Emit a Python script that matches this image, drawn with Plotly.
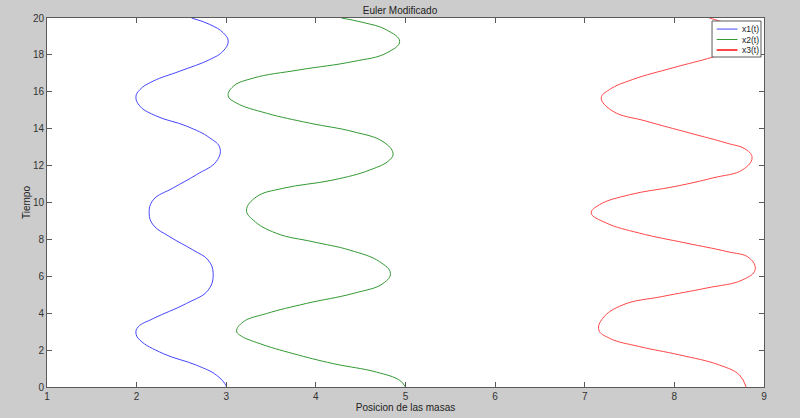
import plotly.graph_objects as go

# x1(t)
t1 = [0, 0.09, 0.64, 1.18, 1.81, 2.54, 2.93, 3.26, 3.71, 4.53, 5.25, 6.16, 6.88, 7.42, 8.14, 8.78, 9.41, 10.14,
      10.79, 11.51, 12.24, 12.96, 13.5, 14.14, 14.68, 15.22, 15.73, 16.12, 16.58, 17.12, 17.75, 18.21, 18.75, 19.2,
      19.65, 20]
x1 = [3.0, 2.996, 2.892, 2.669, 2.297, 2.037, 1.992, 2.018, 2.185, 2.557, 2.798, 2.854, 2.798, 2.631, 2.371, 2.185, 2.14, 2.185,
      2.408, 2.669, 2.892, 2.929, 2.817, 2.557, 2.223, 2.037, 1.992, 2.037, 2.185, 2.483, 2.817, 2.966, 3.022, 2.966,
      2.817, 2.613]

# x2(t)
t2 = [0, 0.36, 0.81, 1.27, 1.81, 2.35, 2.81, 3.04, 3.53, 3.98, 4.53, 5.07, 5.61, 6.16, 6.79, 7.42, 7.87, 8.33, 9.05, 9.59,
      10.31, 10.77, 11.22, 11.76, 12.31, 12.67, 13.3, 13.84, 14.3, 14.84, 15.39, 15.78, 16.29, 16.74, 17.19, 17.64, 18.1,
      18.73, 19.36, 19.76, 20]
x2 = [5.0, 4.935, 4.675, 4.192, 3.746, 3.375, 3.152, 3.115, 3.189, 3.449, 3.895, 4.415, 4.749, 4.832, 4.712, 4.378, 3.969, 3.56, 3.3, 3.226,
      3.338, 3.634, 4.192, 4.601, 4.824, 4.861, 4.749, 4.415, 3.932, 3.449, 3.115, 3.022, 3.077, 3.3, 3.82, 4.415, 4.787,
      4.935, 4.787, 4.526, 4.285]

# x3(t)
t3 = [0, 0.65, 1.19, 1.74, 2.19, 2.64, 3.09, 3.73, 4.45, 4.91, 5.36, 5.81, 6.35, 6.99, 7.35, 7.8, 8.34, 8.89, 9.43,
      9.88, 10.42, 10.88, 11.33, 11.78, 12.42, 12.87, 13.23, 13.77, 14.41, 14.95, 15.67, 16.12, 16.67, 17.3, 17.88,
      18.4, 18.9, 19.4, 19.84, 20]
x3 = [8.80, 8.726, 8.503, 8.057, 7.611, 7.277, 7.157, 7.202, 7.425, 7.871, 8.355, 8.763, 8.901, 8.837, 8.577, 8.131, 7.611, 7.24, 7.072,
      7.165, 7.5, 8.02, 8.428, 8.763, 8.867, 8.8, 8.577, 8.168, 7.685, 7.313, 7.184, 7.276, 7.537, 7.983, 8.428,
      8.75, 8.88, 8.78, 8.5, 8.39]

names = ["x1(t)", "x2(t)", "x3(t)"]
colors = ["#4646ff", "#339933", "#ff4646"]

x_ticks = [1, 2, 3, 4, 5, 6, 7, 8, 9]
y_ticks = [0, 2, 4, 6, 8, 10, 12, 14, 16, 18, 20]

FONT = "Liberation Sans, Arial"

fig = go.Figure()
for xs, ts, nm, col in zip([x1, x2, x3], [t1, t2, t3], names, colors):
    fig.add_trace(go.Scatter(x=xs, y=ts, mode="lines", name=nm, showlegend=False,
                             line=dict(color=col, width=1, shape="spline", smoothing=1.2)))

# compact MATLAB-style legend box (paper coordinates of the plot area)
fig.add_shape(type="rect", xref="paper", yref="paper", x0=0.9275, x1=0.9958, y0=0.8943, y1=0.9919,
              fillcolor="white", line=dict(color="#5a5a5a", width=1), layer="above")
row_y = [0.970, 0.9417, 0.9133]
for nm, col, ry, lw in zip(names, colors, row_y, [1, 1, 2]):
    fig.add_shape(type="line", xref="paper", yref="paper", x0=0.934, x1=0.963, y0=ry, y1=ry,
                  line=dict(color=col, width=lw), layer="above")
    fig.add_annotation(text=nm, xref="paper", yref="paper", x=0.966, y=ry, xanchor="left", yanchor="middle",
                       showarrow=False, font=dict(family=FONT, size=8.5, color="#222222"))

axis_common = dict(showline=True, linecolor="#5a5a5a", linewidth=1, mirror="ticks", ticks="inside",
                   ticklen=5, tickcolor="#5a5a5a", showgrid=False, zeroline=False, automargin=False,
                   tickfont=dict(family=FONT, size=10, color="#333333"))

fig.update_layout(
    width=800, height=418,
    paper_bgcolor="#cccccc", plot_bgcolor="white",
    margin=dict(l=47, r=36, t=18, b=31, autoexpand=False),
    title=dict(text="Euler Modificado", x=0.5, xanchor="center", y=0.983, yanchor="top",
               automargin=False,
               font=dict(family=FONT, size=10, color="#222222")),
    xaxis=dict(range=[1, 9], tickvals=x_ticks,
               title=dict(text="Posicion de las masas", standoff=0,
                          font=dict(family=FONT, size=10, color="#222222")),
               **axis_common),
    yaxis=dict(range=[0, 20], tickvals=y_ticks,
               title=dict(text="Tiempo", standoff=0,
                          font=dict(family=FONT, size=10, color="#222222")),
               **axis_common),
    showlegend=False,
)

fig.write_html("out.html", config={"displayModeBar": False},
               post_script="document.body.style.margin='0';document.body.style.overflow='hidden';")
